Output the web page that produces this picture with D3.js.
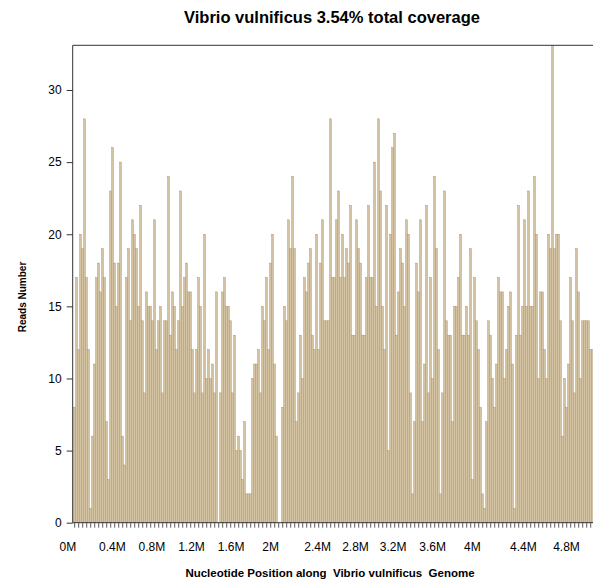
<!DOCTYPE html>
<html>
<head>
<meta charset="utf-8">
<script src="https://cdn.jsdelivr.net/npm/d3@7"></script>
<style>
  body { margin: 0; background: #fff; }
  text { font-family: "Liberation Sans", Arial, Helvetica, sans-serif; fill: #000; }
</style>
</head>
<body>
<script>
// reads per 20 kb bin (bin 239 runs off the top)
var reads = [
  8,17,12,20,19,28,17,12,1,6, 11,17,18,16,19,17,7,3,23,26,
  18,15,18,25,6,4,17,19,14,21, 20,19,15,22,14,9,16,15,15,14,
  21,12,14,15,9,14,14,24,13,16, 15,12,14,23,15,17,18,16,16,12,
  9,12,17,15,9,20,10,12,10,11, 9,16,0,9,16,17,15,15,14,9,
  13,5,6,5,3,7,2,2,2,10, 11,11,12,9,15,14,17,12,18,20,
  11,6,0,0,8,15,14,21,19,24, 19,7,9,13,10,17,16,18,19,13,
  12,20,12,18,21,14,14,14,28,17, 17,21,23,17,20,17,19,18,22,13,
  13,21,19,18,13,13,17,22,17,17, 25,15,28,23,15,12,22,5,20,26,
  27,13,16,19,18,15,21,20,9,2, 7,18,16,21,7,11,22,9,17,10,
  24,19,12,2,9,23,14,13,13,7, 15,15,17,20,13,13,15,13,19,3,
  17,14,12,8,2,1,7,14,13,10, 8,11,17,16,16,10,12,15,16,11,
  1,13,22,13,15,21,15,23,15,15, 24,20,10,16,16,12,10,20,19,36,
  19,20,20,14,6,10,8,11,17,14, 9,19,16,10,14,14,14,14,12,12
];

var yTicks = [0, 5, 10, 15, 20, 25, 30];
var xTickLabels = ["0M", "0.4M", "0.8M", "1.2M", "1.6M", "2M", "2.4M",
                   "2.8M", "3.2M", "3.6M", "4M", "4.4M", "4.8M"];
// where each label sits, in bins from the first bar
var xTickBins = [-2.95, 19.3, 39.1, 58.9, 78.7, 98.5, 122,
                 140.9, 159.7, 179.5, 199.3, 224.8, 246.4];

var width = 593, height = 581;
var plotLeft = 72.7, plotTop = 45.3, plotBottom = 522.7, plotRight = 600;

var svg = d3.select("body").append("svg")
    .attr("width", width)
    .attr("height", height);

var x = d3.scaleLinear()
    .domain([0, reads.length])
    .range([plotLeft + 1, plotLeft + 1 + 2 * reads.length]);

var y = d3.scaleLinear()
    .domain([0, 33.1])
    .range([plotBottom, plotTop]);

svg.append("clipPath").attr("id", "plotclip")
  .append("rect")
    .attr("x", plotLeft).attr("y", plotTop)
    .attr("width", plotRight - plotLeft).attr("height", plotBottom - plotTop);

var step = x(1) - x(0);

svg.append("g")
    .attr("clip-path", "url(#plotclip)")
  .selectAll("rect")
  .data(reads)
  .join("rect")
    .attr("x", (d, i) => x(i))
    .attr("y", d => y(d))
    .attr("width", step * 0.8)
    .attr("height", d => plotBottom - y(d))
    .attr("fill", "#d3c3a3")
    .attr("stroke", "#b29565")
    .attr("stroke-width", 0.5);

// frame
svg.append("path")
    .attr("d", "M" + plotRight + "," + plotTop + "H" + plotLeft + "V" + plotBottom + "H" + plotRight)
    .attr("fill", "none")
    .attr("stroke", "#333")
    .attr("stroke-width", 1);

// y axis
var yAxis = d3.axisLeft(y)
    .tickValues(yTicks)
    .tickSize(6)
    .tickPadding(5);

svg.append("g")
    .attr("transform", "translate(" + plotLeft + ",0)")
    .call(yAxis)
    .call(g => g.select(".domain").remove())
    .call(g => g.selectAll("line").attr("stroke", "#333"))
    .call(g => g.selectAll("text")
        .style("font-family", "Liberation Sans, Arial, sans-serif")
        .style("font-size", "12px"));

// x ticks: one every other bin
var tickIdx = d3.range(0, reads.length, 2);
svg.append("g")
  .selectAll("line")
  .data(tickIdx)
  .join("line")
    .attr("x1", i => x(i + 0.5))
    .attr("x2", i => x(i + 0.5))
    .attr("y1", plotBottom)
    .attr("y2", plotBottom + 5)
    .attr("stroke", "#333")
    .attr("stroke-width", 0.8);

svg.append("g")
  .selectAll("text")
  .data(xTickLabels)
  .join("text")
    .attr("x", (d, i) => x(xTickBins[i]))
    .attr("y", 551)
    .attr("text-anchor", "middle")
    .style("font-size", "12px")
    .text(d => d);

// titles
svg.append("text")
    .attr("x", 332)
    .attr("y", 23)
    .attr("text-anchor", "middle")
    .style("font-size", "16.5px")
    .style("font-weight", "bold")
    .text("Vibrio vulnificus 3.54% total coverage");

svg.append("text")
    .attr("x", 330)
    .attr("y", 577)
    .attr("text-anchor", "middle")
    .style("font-size", "11.5px")
    .style("font-weight", "bold")
    .style("white-space", "pre")
    .text("Nucleotide Position along  Vibrio vulnificus  Genome");

svg.append("text")
    .attr("transform", "translate(26,297) rotate(-90)")
    .attr("text-anchor", "middle")
    .style("font-size", "10px")
    .style("font-weight", "bold")
    .text("Reads Number");
</script>
</body>
</html>
